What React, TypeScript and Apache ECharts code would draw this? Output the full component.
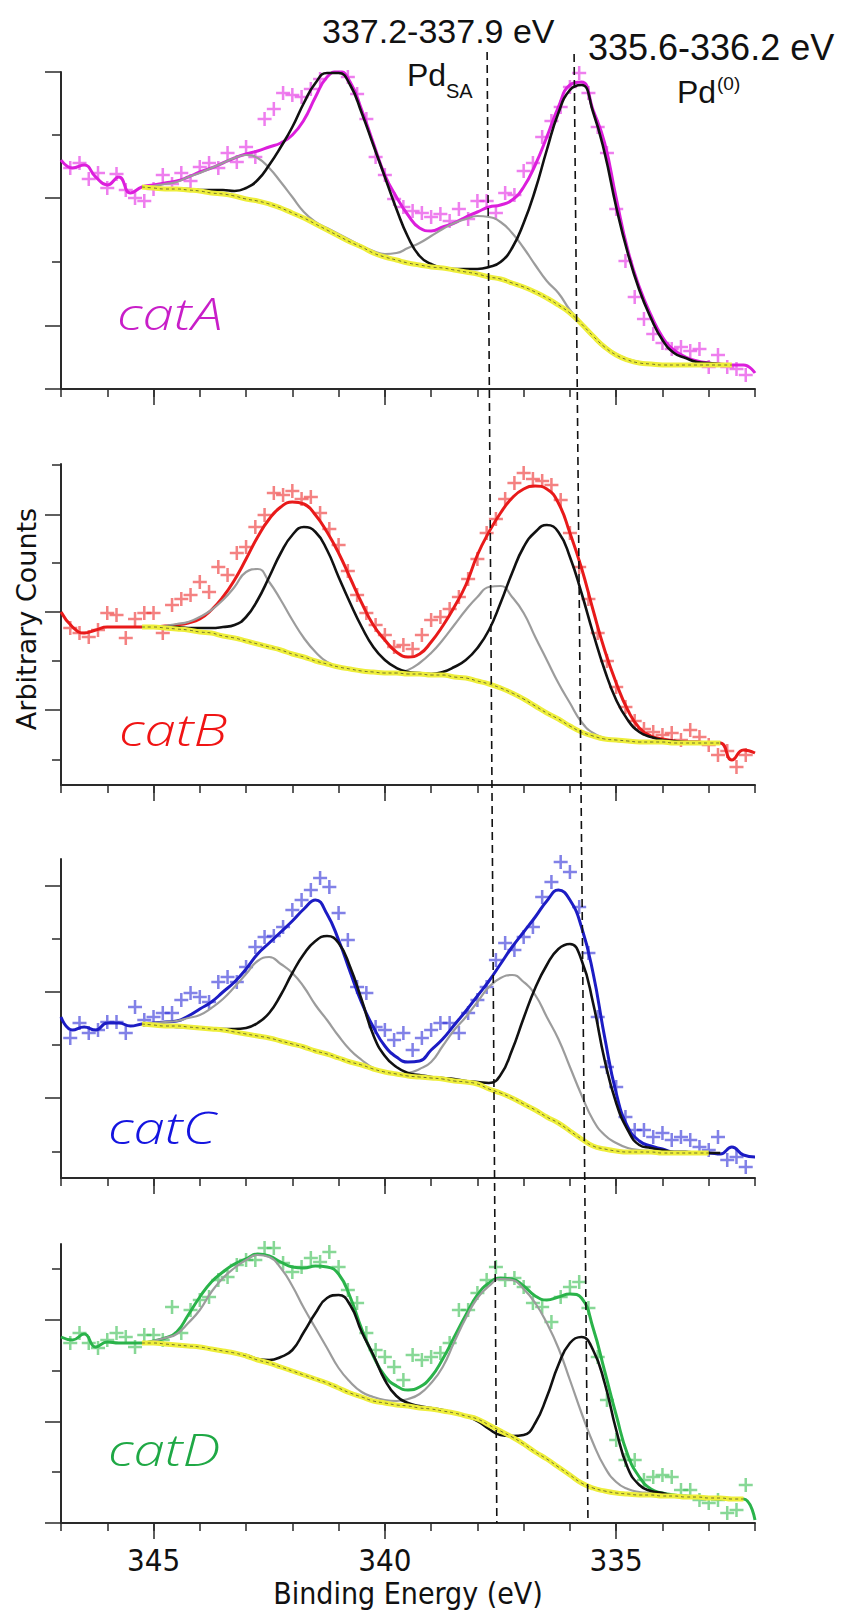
import React, { useEffect, useRef } from "react";
import * as echarts from "echarts";

const N = null;

// binding energy grid for fitted curves (eV)
const X = [347, 346.75, 346.5, 346.25, 346, 345.75, 345.5, 345.25, 345, 344.75, 344.5, 344.25, 344, 343.75, 343.5, 343.25, 343, 342.75, 342.5, 342.25, 342, 341.75, 341.5, 341.25, 341, 340.75, 340.5, 340.25, 340, 339.75, 339.5, 339.25, 339, 338.75, 338.5, 338.25, 338, 337.75, 337.5, 337.25, 337, 336.75, 336.5, 336.25, 336, 335.75, 335.5, 335.25, 335, 334.75, 334.5, 334.25, 334, 333.75, 333.5, 333.25, 333, 332.75, 332.5, 332.25, 332];
// binding energy grid for measured points (eV)
const DX = [346.8, 346.6, 346.4, 346.2, 346, 345.8, 345.6, 345.4, 345.2, 345, 344.8, 344.6, 344.4, 344.2, 344, 343.8, 343.6, 343.4, 343.2, 343, 342.8, 342.6, 342.4, 342.2, 342, 341.8, 341.6, 341.4, 341.2, 341, 340.8, 340.6, 340.4, 340.2, 340, 339.8, 339.6, 339.4, 339.2, 339, 338.8, 338.6, 338.4, 338.2, 338, 337.8, 337.6, 337.4, 337.2, 337, 336.8, 336.6, 336.4, 336.2, 336, 335.8, 335.6, 335.4, 335.2, 335, 334.8, 334.6, 334.4, 334.2, 334, 333.8, 333.6, 333.4, 333.2, 333, 332.8, 332.6, 332.4, 332.2];

// ---- catA ----
const envA = [229, 221, 224, 212, 204, 212, 196, 202, 204, 206, 208, 212, 217, 221, 226, 231, 235, 238, 242, 246, 254, 269, 292, 312, 318, 307, 279, 246, 214, 192, 174, 161, 158, 162, 166, 172, 177, 182, 184, 189, 202, 224, 252, 282, 304, 307, 279, 246, 191, 139, 102, 74, 52, 39, 32, 28, 26, 25, 24, 24, 16];
const blackA = [N, N, N, N, N, N, N, 202, 201, 200, 200, 200, 199, 199, 199, 198, 201, 209, 224, 242, 262, 286, 306, 316, 316, 304, 276, 244, 212, 180, 152, 133, 125, 121, 120, 120, 120, 122, 127, 141, 166, 199, 239, 276, 299, 304, 277, 236, 182, 136, 99, 71, 49, 36, 31, 27, 26, 25, N, N, N];
const greyA = [N, N, N, N, N, N, N, 202, 203, 205, 207, 212, 216, 221, 226, 231, 234, 231, 221, 207, 192, 177, 167, 161, 155, 149, 143, 138, 135, 136, 141, 146, 153, 160, 166, 170, 173, 172, 167, 156, 141, 124, 108, 96, 79, 66, 54, 43, 35, 30, 27, 25, 24, 24, 24, 24, 24, 24, N, N, N];
const bgA = [N, N, N, N, N, N, N, 202, 201, 200, 200, 199, 198, 196, 195, 193, 190, 188, 185, 181, 176, 171, 165, 159, 153, 147, 142, 136, 132, 129, 126, 124, 122, 121, 119, 117, 115, 112, 110, 106, 102, 97, 91, 84, 76, 65, 53, 42, 34, 29, 26, 25, 24, 24, 24, 24, 24, 24, 24, N, N];
const dataA = [221, 226, 210, 216, 201, 215, 199, 191, 188, 200, 214, 205, 216, 208, 222, 226, 221, 236, 227, 242, 232, 270, 280, 296, 294, 292, 300, 310, 318, 318, 312, 295, 270, 232, 214, 190, 182, 178, 176, 172, 175, 168, 180, 170, 188, 188, 176, 196, 194, 218, 226, 252, 268, 282, 302, 316, 296, 262, 236, 180, 128, 92, 70, 55, 46, 40, 42, 38, 40, 22, 34, 22, 20, 14];

// ---- catB ----
const envB = [173, 158, 152, 155, 158, 158, 158, 158, 158, 159, 160, 162, 166, 175, 188, 205, 226, 248, 266, 278, 283, 281, 270, 253, 232, 207, 182, 160, 145, 133, 128, 131, 143, 159, 178, 200, 230, 253, 272, 287, 296, 299, 296, 282, 252, 217, 175, 135, 102, 75, 57, 49, 46, 44, 43, 43, 42, 42, 25, 35, 32];
const blackB = [N, N, N, N, N, N, N, 158, 158, 158, 158, 157, 157, 157, 158, 160, 168, 185, 208, 232, 250, 258, 253, 235, 208, 182, 158, 138, 125, 117, 113, 112, 111, 113, 118, 125, 137, 155, 182, 212, 238, 253, 260, 253, 228, 192, 152, 115, 85, 65, 53, 48, 45, 44, 43, 43, 42, 42, N, N, N];
const greyB = [N, N, N, N, N, N, N, 158, 158, 159, 161, 163, 168, 175, 185, 198, 213, 216, 203, 185, 165, 147, 133, 123, 118, 116, 114, 113, 112, 112, 115, 122, 132, 145, 160, 175, 188, 198, 199, 188, 172, 148, 125, 102, 82, 63, 52, 47, 44, 43, 43, 43, 43, 42, 42, 42, 42, 42, N, N, N];
const bgB = [N, N, N, N, N, N, N, 158, 158, 157, 156, 155, 153, 152, 149, 147, 144, 141, 138, 135, 131, 128, 124, 121, 118, 116, 114, 113, 112, 112, 111, 111, 110, 110, 108, 107, 104, 101, 97, 92, 86, 79, 72, 66, 59, 53, 49, 46, 45, 44, 43, 43, 43, 42, 42, 42, 42, 42, N, N, N];
const dataB = [157, 152, 148, 155, 172, 170, 147, 166, 172, 172, 152, 180, 186, 190, 203, 193, 218, 210, 232, 238, 258, 270, 292, 290, 294, 286, 288, 272, 256, 240, 214, 190, 172, 160, 150, 138, 140, 136, 150, 165, 168, 176, 188, 206, 226, 252, 266, 286, 302, 312, 306, 304, 300, 285, 252, 218, 186, 152, 124, 98, 78, 64, 56, 53, 50, 52, 45, 55, 48, 40, 30, 34, 18, 30];

// ---- catC ----
const envC = [161, 148, 151, 148, 155, 155, 152, 154, 155, 156, 157, 162, 169, 176, 186, 196, 209, 224, 235, 246, 257, 269, 278, 264, 238, 206, 175, 151, 132, 121, 116, 117, 128, 139, 153, 167, 182, 197, 214, 231, 246, 261, 277, 288, 278, 251, 205, 141, 85, 51, 37, 32, 29, 26, 26, 25, 25, 24, 31, 23, 21];
const blackC = [N, N, N, N, N, N, N, 154, 153, 152, 151, 151, 150, 149, 149, 149, 150, 155, 165, 183, 205, 224, 237, 242, 235, 211, 178, 143, 122, 111, 105, 103, 101, 100, 99, 97, 96, 95, 103, 128, 160, 190, 213, 229, 234, 218, 175, 118, 75, 48, 33, 30, 28, 26, 26, 25, 25, 25, N, N, N];
const greyC = [N, N, N, N, N, N, N, 154, 155, 156, 157, 160, 163, 170, 179, 191, 204, 217, 221, 214, 205, 191, 173, 158, 142, 128, 118, 110, 106, 104, 105, 109, 116, 132, 148, 161, 176, 191, 200, 203, 196, 183, 161, 139, 111, 83, 58, 43, 35, 30, 28, 27, 26, 26, 26, 25, 25, 25, N, N, N];
const bgC = [N, N, N, N, N, N, N, 154, 153, 152, 152, 151, 150, 149, 148, 146, 144, 142, 140, 137, 134, 131, 127, 124, 120, 116, 113, 109, 106, 104, 102, 101, 100, 99, 97, 96, 94, 89, 85, 80, 74, 68, 61, 55, 47, 39, 32, 29, 27, 26, 26, 26, 25, 25, 25, 25, 25, N, N, N, N];
const dataC = [140, 155, 145, 148, 156, 156, 145, 171, 158, 161, 165, 165, 178, 185, 181, 176, 196, 201, 196, 211, 231, 241, 242, 251, 268, 278, 288, 300, 291, 265, 238, 191, 185, 151, 148, 138, 145, 128, 140, 148, 155, 155, 145, 165, 178, 191, 218, 235, 228, 241, 251, 281, 296, 316, 306, 271, 225, 161, 111, 91, 61, 48, 48, 41, 45, 38, 41, 38, 31, 28, 41, 18, 21, 11];

// ---- catD ----
const envD = [186, 183, 189, 176, 181, 180, 180, 180, 182, 185, 191, 208, 226, 241, 251, 259, 264, 269, 267, 261, 256, 255, 257, 256, 249, 226, 194, 167, 147, 137, 133, 136, 146, 164, 186, 208, 228, 240, 245, 244, 237, 227, 223, 226, 229, 225, 195, 152, 108, 68, 46, 34, 30, 28, 27, 26, 25, 24, 24, 24, 3];
const blackD = [N, N, N, N, N, N, N, 180, 180, 179, 178, 177, 176, 174, 172, 170, 168, 164, 163, 166, 173, 191, 210, 225, 228, 218, 191, 168, 143, 127, 120, 117, 115, 113, 110, 107, 102, 94, 88, 87, 88, 100, 126, 158, 180, 186, 173, 140, 93, 55, 38, 32, 30, 27, 26, 26, 25, 25, N, N, N];
const greyD = [N, N, N, N, N, N, N, 180, 182, 185, 189, 200, 213, 231, 245, 255, 263, 268, 266, 255, 237, 215, 195, 175, 155, 141, 131, 126, 123, 122, 124, 129, 140, 156, 181, 205, 225, 237, 244, 243, 234, 220, 200, 175, 143, 110, 80, 56, 41, 34, 31, 30, 28, 27, 26, 26, 25, 25, N, N, N];
const bgD = [N, N, N, N, N, N, N, 180, 180, 179, 178, 177, 176, 174, 172, 170, 167, 163, 160, 156, 152, 148, 144, 140, 135, 130, 126, 122, 120, 118, 117, 115, 114, 112, 110, 107, 104, 98, 92, 86, 79, 71, 64, 56, 48, 40, 35, 32, 30, 29, 28, 28, 27, 27, 26, 26, 25, 25, 24, 24, N];
const dataD = [180, 190, 180, 175, 183, 190, 186, 176, 188, 188, 183, 216, 190, 213, 223, 226, 243, 246, 258, 263, 263, 275, 275, 260, 251, 256, 265, 261, 271, 256, 233, 220, 190, 173, 166, 156, 143, 168, 163, 166, 170, 180, 213, 213, 230, 243, 256, 243, 245, 236, 220, 216, 201, 226, 236, 241, 215, 166, 123, 83, 63, 63, 43, 46, 48, 46, 33, 33, 23, 20, 23, 10, 13, 38];

// axis ticks
const X_MIN = 332;
const X_MAX = 347;
const X_MAJOR = [345, 340, 335];
const X_LABELS = [345, 340, 335];

// reference lines (eV at top of figure, eV at bottom of figure)
const REF_LINES = [
  { top: 337.79, bottom: 337.58 },
  { top: 335.91, bottom: 335.61 },
];

// ---- layout / style of panels ----
const PANELS = [
  { label: "catA", env: envA, black: blackA, grey: greyA, bg: bgA, data: dataA, top: 72, height: 317, yMax: 317, longTicks: [0, 63, 191, 317], shortTicks: [127, 254], line: "#dc1edc", mark: "rgba(226,40,226,0.75)", text: "#c81ec8", lx: 117, ly: 313 },
  { label: "catB", env: envB, black: blackB, grey: greyB, bg: bgB, data: dataB, top: 464, height: 321, yMax: 321, longTicks: [75, 173, 270], shortTicks: [25, 124, 222, 320], line: "#e81a1a", mark: "rgba(236,45,45,0.75)", text: "#f01414", lx: 119, ly: 729 },
  { label: "catC", env: envC, black: blackC, grey: greyC, bg: bgC, data: dataC, top: 859, height: 319, yMax: 319, longTicks: [80, 186, 292], shortTicks: [26, 133, 239], line: "#1c1cc4", mark: "rgba(45,45,215,0.75)", text: "#1414e0", lx: 108, ly: 1127 },
  { label: "catD", env: envD, black: blackD, grey: greyD, bg: bgD, data: dataD, top: 1244, height: 279, yMax: 279, longTicks: [0, 101, 203], shortTicks: [51, 152, 254], line: "#2ab34a", mark: "rgba(55,190,80,0.75)", text: "#1fa845", lx: 108, ly: 1449 },
];

const PLUS = "path://M4.1,0h1.8v4.1h4.1v1.8h-4.1v4.1h-1.8v-4.1h-4.1v-1.8h4.1z";
const AXIS_COLOR = "#2a2a2a";

function pts(xs: number[], ys: (number | null)[]) {
  const out: number[][] = [];
  xs.forEach((x, i) => {
    const y = ys[i];
    if (y !== null && y !== undefined) out.push([x, y]);
  });
  return out;
}

function buildOption() {
  const grid: any[] = [];
  const xAxis: any[] = [];
  const yAxis: any[] = [];
  const series: any[] = [];

  PANELS.forEach((p, i) => {
    grid.push({ left: 61, width: 694, top: p.top, height: p.height });
    const isLast = i === PANELS.length - 1;
    xAxis.push({
      type: "value", gridIndex: i, position: "bottom", min: X_MIN, max: X_MAX, interval: 1, inverse: true,
      axisLine: { show: true, onZero: false, lineStyle: { color: AXIS_COLOR, width: 2 } },
      axisTick: { show: true, length: 8, lineStyle: { color: AXIS_COLOR, width: 1.5 } },
      axisLabel: { show: false }, splitLine: { show: false },
    });
    xAxis.push({
      type: "value", gridIndex: i, position: "bottom", min: X_MIN, max: X_MAX, inverse: true,
      axisLine: { show: false, onZero: false },
      axisTick: { show: true, length: 16, customValues: X_MAJOR, lineStyle: { color: AXIS_COLOR, width: 1.5 } },
      axisLabel: {
        show: isLast, customValues: X_LABELS, margin: 21, fontSize: 31, color: "#111",
        fontFamily: "'DejaVu Sans Condensed', 'Liberation Sans Narrow', sans-serif",
      },
      splitLine: { show: false },
    });
    yAxis.push({
      type: "value", gridIndex: i, position: "left", min: 0, max: p.yMax,
      axisLine: { show: true, onZero: false, lineStyle: { color: AXIS_COLOR, width: 2 } },
      axisTick: { show: true, length: 16, customValues: p.longTicks, lineStyle: { color: AXIS_COLOR, width: 1.5 } },
      axisLabel: { show: false }, splitLine: { show: false },
    });
    yAxis.push({
      type: "value", gridIndex: i, position: "left", min: 0, max: p.yMax,
      axisLine: { show: false, onZero: false },
      axisTick: { show: true, length: 9, customValues: p.shortTicks, lineStyle: { color: AXIS_COLOR, width: 1.5 } },
      axisLabel: { show: false }, splitLine: { show: false },
    });
    const xi = 2 * i;
    const yi = 2 * i;
    series.push({
      type: "scatter", xAxisIndex: xi, yAxisIndex: yi, data: pts(DX, p.data),
      symbol: PLUS, symbolSize: 14, itemStyle: { color: p.mark }, z: 1, silent: true,
    });
    const lineBase = { type: "line", xAxisIndex: xi, yAxisIndex: yi, showSymbol: false, symbol: "none", smooth: 0.5, silent: true };
    series.push({ ...lineBase, data: pts(X, p.env), lineStyle: { color: p.line, width: 3 }, z: 2 });
    series.push({ ...lineBase, data: pts(X, p.grey), lineStyle: { color: "#9c9c9c", width: 2.2 }, z: 3 });
    series.push({ ...lineBase, data: pts(X, p.black), lineStyle: { color: "#111", width: 2.6 }, z: 4 });
    series.push({ ...lineBase, data: pts(X, p.bg), lineStyle: { color: "#eeee3a", width: 5 }, z: 5 });
    series.push({ ...lineBase, data: pts(X, p.bg), lineStyle: { color: "#3a3a2a", width: 1, type: [3, 3], opacity: 0.7 }, z: 6 });
  });

  return { animation: false, backgroundColor: "#ffffff", grid, xAxis, yAxis, series };
}

export default function App() {
  const ref = useRef<HTMLDivElement>(null);
  useEffect(() => {
    if (!ref.current) return;
    const chart = echarts.init(ref.current, undefined, { renderer: "svg" });
    chart.setOption(buildOption());

    const last = PANELS.length - 1;
    const yBottom = chart.convertToPixel({ yAxisIndex: 2 * last }, 0) as number;
    const graphic: any[] = [];
    const tops = [52, 54];
    REF_LINES.forEach((l, k) => {
      const x1 = chart.convertToPixel({ xAxisIndex: 0 }, l.top) as number;
      const x2 = chart.convertToPixel({ xAxisIndex: 2 * last }, l.bottom) as number;
      graphic.push({
        type: "line", silent: true, z: 50,
        shape: { x1, y1: tops[k], x2, y2: yBottom },
        style: { stroke: "#111", lineWidth: 1.6, lineDash: [8, 5] },
      });
    });
    const sans = "'Liberation Sans', Arial, sans-serif";
    const txt = (text: string, x: number, y: number, size: number, extra: any = {}) => ({
      type: "text", x, y, silent: true, z: 60,
      style: { text, fill: "#111", fontSize: size, fontFamily: sans, align: "left", verticalAlign: "middle", ...extra },
    });
    graphic.push(txt("337.2-337.9 eV", 322, 31, 34));
    graphic.push(txt("335.6-336.2 eV", 588, 47, 36));
    graphic.push(txt("Pd", 407, 75, 32));
    graphic.push(txt("SA", 446, 91, 20));
    graphic.push(txt("Pd", 677, 92, 32));
    graphic.push(txt("(0)", 717, 83, 19));
    PANELS.forEach((p) => {
      graphic.push({
        type: "text", x: p.lx, y: p.ly, scaleX: 1.28, silent: true, z: 60,
        style: {
          text: p.label, fill: p.text, fontSize: 44, fontStyle: "italic", fontWeight: 300,
          fontFamily: "'Open Sans', 'Noto Sans', sans-serif", align: "left", verticalAlign: "middle",
        },
      });
    });
    graphic.push({
      type: "text", x: 26, y: 619, rotation: Math.PI / 2, silent: true, z: 60,
      style: { text: "Arbitrary Counts", fill: "#111", fontSize: 27, fontFamily: "'DejaVu Sans', sans-serif", align: "center", verticalAlign: "middle" },
    });
    graphic.push({
      type: "text", x: 408, y: 1593, silent: true, z: 60,
      style: { text: "Binding Energy (eV)", fill: "#111", fontSize: 30, fontFamily: "'DejaVu Sans Condensed', 'Liberation Sans Narrow', sans-serif", align: "center", verticalAlign: "middle" },
    });
    chart.setOption({ graphic });

    return () => chart.dispose();
  }, []);
  return <div ref={ref} style={{ position: "absolute", left: 0, top: 0, width: 841, height: 1611, background: "#fff" }} />;
}
